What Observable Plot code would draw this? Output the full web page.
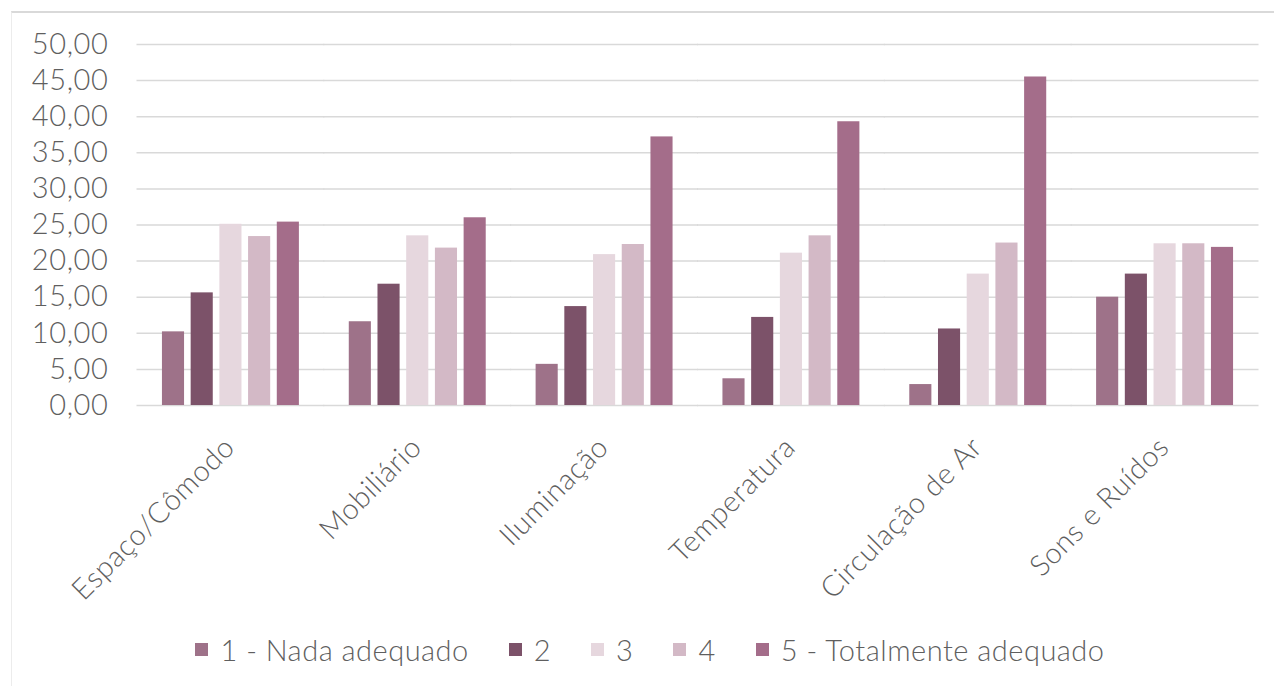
<!DOCTYPE html>
<html>
<head>
<meta charset="utf-8">
<script src="https://cdn.jsdelivr.net/npm/d3@7"></script>
<script src="https://cdn.jsdelivr.net/npm/@observablehq/plot@0.6"></script>
<style>
  html, body { margin: 0; padding: 0; background: #ffffff; }
  body { width: 1274px; height: 686px; position: relative; overflow: hidden; font-family: Lato, "Open Sans", sans-serif; }
  #box { position: absolute; left: 11px; top: 11px; width: 1270px; height: 700px; border-top: 2px solid #d9d9d9; border-left: 1px solid #ececec; }
  #chart { position: absolute; left: 0; top: 0; }
  #legend { position: absolute; left: 0; top: 632px; width: 1300px; display: flex; justify-content: center; align-items: center;
            font-size: 29px; font-weight: 300; color: #5f5f5f; letter-spacing: 0.5px; font-family: Lato, "Open Sans", sans-serif; }
  .item { display: flex; align-items: center; margin: 0 20px; white-space: nowrap; }
  .sw { width: 13px; height: 13px; margin-right: 12px; }
</style>
</head>
<body>
<div id="box"></div>
<div id="chart"></div>
<div id="legend"></div>
<script>
const categories = ["Espaço/Cômodo", "Mobiliário", "Iluminação", "Temperatura", "Circulação de Ar", "Sons e Ruídos"];
const seriesNames = ["1 - Nada adequado", "2", "3", "4", "5 - Totalmente adequado"];
const serie1 = [10.2, 11.6, 5.7, 3.7, 2.9, 15.0];
const serie2 = [15.6, 16.8, 13.7, 12.2, 10.6, 18.2];
const serie3 = [25.1, 23.5, 20.9, 21.1, 18.2, 22.4];
const serie4 = [23.4, 21.8, 22.3, 23.5, 22.5, 22.4];
const serie5 = [25.4, 26.0, 37.2, 39.3, 45.5, 21.9];
const colors = ["#9e7289", "#7c5269", "#e6d7de", "#d3b9c6", "#a46d8a"];
const yTicks = [0, 5, 10, 15, 20, 25, 30, 35, 40, 45, 50];

const allSeries = [serie1, serie2, serie3, serie4, serie5];
const data = [];
categories.forEach((c, i) => {
  allSeries.forEach((s, j) => data.push({cat: c, series: seriesNames[j], value: s[i]}));
});

const fmt = d => d.toFixed(2).replace(".", ",");
const textColor = "#5f5f5f";
const font = "Lato, 'Open Sans', sans-serif";

const W = 1274, mL = 137, mR = 16;
const fxPad = 0.267;
// half of the gap between two facet bands, so gridlines read as continuous
const halfGap = ((W - mL - mR) / categories.length) * fxPad / 2;

const chart = Plot.plot({
  width: W,
  height: 620,
  marginTop: 44,
  marginBottom: 215,
  marginLeft: mL,
  marginRight: mR,
  style: {background: "transparent", fontFamily: font, color: textColor, letterSpacing: "0.6px"},
  fx: {domain: categories, paddingInner: fxPad, paddingOuter: fxPad / 2, round: false, label: null},
  x: {domain: seriesNames, paddingInner: 0.23, paddingOuter: 0, round: false, axis: null},
  y: {domain: [0, 50], ticks: yTicks, label: null},
  color: {domain: seriesNames, range: colors},
  marks: [
    Plot.ruleY(yTicks, {y: d => d, stroke: "#d9d9d9", strokeWidth: 1.5, insetLeft: -halfGap - 0.5, insetRight: -halfGap - 0.5}),
    Plot.axisY(yTicks, {tickSize: 0, tickPadding: 54, tickFormat: fmt, fontSize: 29, fontWeight: 300, fill: textColor, label: null}),
    Plot.barY(data, {fx: "cat", x: "series", y: "value", fill: "series"}),
    Plot.axisFx({anchor: "bottom", tickSize: 0, tickRotate: -45, tickPadding: 37, dx: -1,
      fontSize: 29, fontWeight: 300, fill: textColor, label: null})
  ]
});
document.getElementById("chart").appendChild(chart);

const legend = document.getElementById("legend");
seriesNames.forEach((name, j) => {
  const item = document.createElement("div");
  item.className = "item";
  const sw = document.createElement("span");
  sw.className = "sw";
  sw.style.background = colors[j];
  const t = document.createElement("span");
  t.textContent = name;
  item.appendChild(sw);
  item.appendChild(t);
  legend.appendChild(item);
});
</script>
</body>
</html>
